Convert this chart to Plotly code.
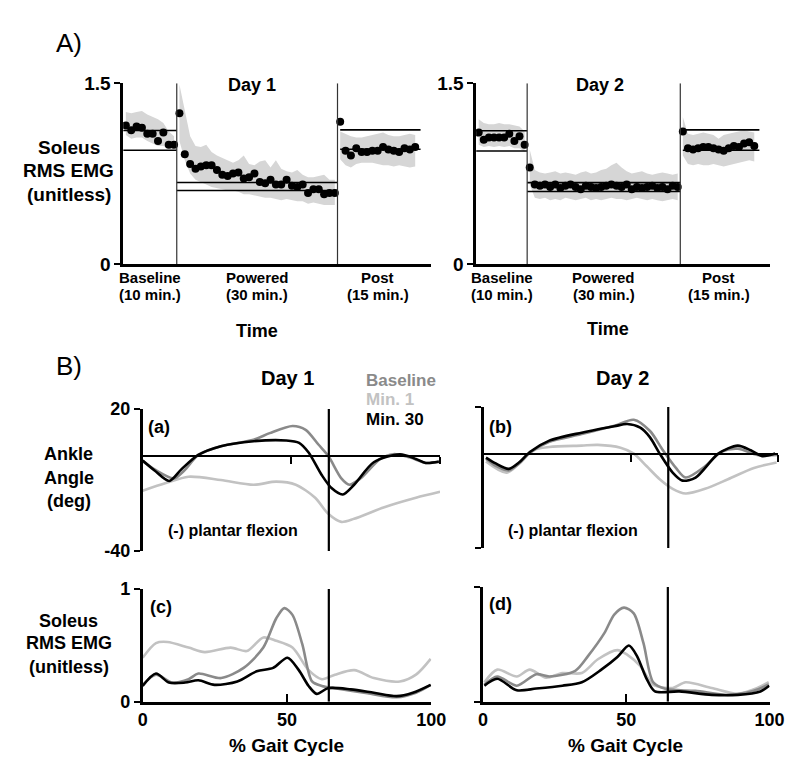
import plotly.graph_objects as go

W, H = 800, 767
FONT = "Liberation Sans, Arial, sans-serif"
NARROW = "Liberation Sans Narrow, Liberation Sans, Arial, sans-serif"

# ---------------- Panel A data (Soleus RMS EMG per minute) ----------------
SEG_NAMES = ["Baseline", "Powered", "Post"]
SEG_DURATIONS = ["(10 min.)", "(30 min.)", "(15 min.)"]
SEG_START = [0, 10, 40]
SEG_LEN = [10, 30, 15]

D1_BASE = [1.15, 1.11, 1.14, 1.13, 1.08, 1.08, 1.02, 1.09, 0.99, 0.99]
D1_BASE_HI = [1.26, 1.25, 1.26, 1.27, 1.24, 1.22, 1.20, 1.17, 1.10, 1.06]
D1_BASE_LO = [1.07, 1.04, 1.05, 1.05, 1.02, 1.00, 0.98, 0.98, 0.96, 0.95]
D1_POW = [1.25, 0.91, 0.83, 0.79, 0.81, 0.82, 0.82, 0.78, 0.74, 0.73,
          0.75, 0.76, 0.71, 0.72, 0.75, 0.68, 0.67, 0.70, 0.66, 0.66,
          0.70, 0.65, 0.64, 0.66, 0.59, 0.62, 0.62, 0.58, 0.59, 0.59]
D1_POW_HI = [1.49, 1.28, 1.06, 0.98, 0.97, 0.99, 0.93, 0.90, 0.88, 0.86,
             0.84, 0.86, 0.90, 0.83, 0.82, 0.85, 0.86, 0.80, 0.86, 0.79,
             0.77, 0.76, 0.78, 0.74, 0.72, 0.72, 0.73, 0.74, 0.70, 0.70]
D1_POW_LO = [1.02, 0.86, 0.75, 0.70, 0.68, 0.66, 0.64, 0.63, 0.62, 0.61,
             0.61, 0.60, 0.58, 0.58, 0.57, 0.56, 0.55, 0.55, 0.54, 0.53,
             0.54, 0.53, 0.52, 0.52, 0.50, 0.51, 0.50, 0.49, 0.49, 0.49]
D1_POST = [1.18, 0.94, 0.90, 0.96, 0.93, 0.93, 0.94, 0.94, 0.97, 0.95, 0.94, 0.93, 0.96, 0.95, 0.97]
D1_POST_HI = [1.10, 1.08, 1.06, 1.05, 1.05, 1.06, 1.07, 1.08, 1.09, 1.07, 1.06, 1.06, 1.07, 1.08, 1.07]
D1_POST_LO = [0.87, 0.82, 0.80, 0.83, 0.84, 0.84, 0.84, 0.83, 0.82, 0.82, 0.81, 0.82, 0.81, 0.80, 0.81]
D1_LEVELS = [[1.107, 0.944], [0.677, 0.610], [1.113, 0.952]]

D2_BASE = [1.09, 1.03, 1.05, 1.05, 1.05, 1.05, 1.08, 1.02, 1.06, 0.99]
D2_BASE_HI = [1.20, 1.17, 1.16, 1.16, 1.17, 1.16, 1.16, 1.15, 1.14, 1.10]
D2_BASE_LO = [0.99, 0.97, 0.98, 0.97, 0.98, 0.97, 0.98, 0.96, 0.96, 0.93]
D2_POW = [0.80, 0.66, 0.65, 0.66, 0.64, 0.66, 0.63, 0.65, 0.66, 0.64,
          0.62, 0.65, 0.64, 0.63, 0.64, 0.65, 0.66, 0.65, 0.64, 0.66,
          0.62, 0.64, 0.63, 0.64, 0.65, 0.63, 0.64, 0.62, 0.65, 0.64]
D2_POW_HI = [0.95, 0.78, 0.76, 0.75, 0.76, 0.77, 0.75, 0.76, 0.75, 0.74,
             0.76, 0.77, 0.75, 0.76, 0.78, 0.79, 0.82, 0.84, 0.80, 0.77,
             0.75, 0.76, 0.77, 0.75, 0.74, 0.75, 0.76, 0.75, 0.74, 0.75]
D2_POW_LO = [0.66, 0.55, 0.54, 0.55, 0.53, 0.54, 0.53, 0.55, 0.54, 0.53,
             0.54, 0.55, 0.53, 0.54, 0.53, 0.54, 0.55, 0.54, 0.54, 0.53,
             0.54, 0.55, 0.54, 0.53, 0.54, 0.53, 0.52, 0.53, 0.54, 0.53]
D2_POST = [1.10, 0.96, 0.95, 0.96, 0.97, 0.97, 0.96, 0.95, 0.94, 0.96, 0.98, 0.97, 1.00, 1.01, 0.98]
D2_POST_HI = [1.22, 1.08, 1.07, 1.08, 1.09, 1.08, 1.07, 1.04, 1.07, 1.08, 1.09, 1.10, 1.11, 1.10, 1.09]
D2_POST_LO = [0.90, 0.83, 0.82, 0.83, 0.82, 0.82, 0.83, 0.82, 0.81, 0.82, 0.83, 0.84, 0.85, 0.86, 0.85]
D2_LEVELS = [[1.105, 0.938], [0.675, 0.602], [1.113, 0.944]]

# ---------------- Panel B data (% gait cycle) ----------------
CONDITIONS = ["Baseline", "Min. 1", "Min. 30"]
TOE_OFF_ANGLE = 62.6
TOE_OFF_EMG = 64.5

# Ankle angle (deg), Day 1
A1_BASE_X = [0, 4, 10.5, 14, 18.7, 26.3, 37.3, 42.7, 50.4, 54.8, 59.1, 62.4, 66.8, 69.5, 73.3, 79.9, 84.3, 89.7, 95.2, 99.6]
A1_BASE_Y = [-2.0, -5.5, -9.3, -6.0, 0.6, 4.3, 7.0, 9.8, 12.8, 11.2, 5.0, 0.2, -9.3, -12.0, -9.3, -1.1, 0.9, -0.4, -2.8, -2.4]
A1_M1_X = [0, 7.8, 15.4, 26.3, 37.3, 44.9, 51.5, 58, 62.4, 66.8, 71.1, 81, 91.9, 100]
A1_M1_Y = [-14.5, -11.3, -8.6, -10.0, -12.0, -10.7, -12.0, -17.5, -24.3, -27.7, -26.4, -21.6, -17.5, -15.0]
A1_M30_X = [0, 4, 8.9, 13, 18.7, 26.3, 37.3, 48.2, 52.6, 55.8, 60.2, 63.5, 67.3, 71.1, 77.7, 86.5, 91.9, 95.2, 99.6]
A1_M30_Y = [-1.8, -6.0, -10.4, -5.5, 0.6, 4.3, 6.4, 6.7, 5.7, 1.6, -7.9, -13.4, -16.1, -12.0, -2.5, 0.9, -1.1, -2.8, -2.2]

# Ankle angle (deg), Day 2
A2_BASE_X = [0.7, 4, 8.4, 12, 15.6, 22.2, 33.2, 44.3, 50.9, 56.4, 60.8, 65.2, 68.5, 75.1, 80.6, 86.2, 92.8, 99.9]
A2_BASE_Y = [-2.0, -5.0, -7.0, -4.0, 0.5, 5.2, 8.5, 12.0, 14.6, 9.8, 1.6, -5.9, -10.0, -5.2, 0.9, 2.3, -0.4, -0.4]
A2_M1_X = [0.7, 7.8, 16.7, 22.2, 33.2, 38.7, 46.4, 50.9, 55.3, 59.7, 64.1, 68.5, 75.1, 82.9, 91.7, 99.4]
A2_M1_Y = [-3.2, -7.9, 1.6, 3.0, 3.6, 3.9, 2.7, 0.2, -5.2, -10.7, -14.8, -16.8, -14.8, -10.7, -5.9, -3.6]
A2_M30_X = [0.7, 4, 8.4, 12, 15.6, 22.2, 33.2, 44.3, 48.7, 53.1, 56.4, 59.7, 64.1, 67.4, 71.9, 79.6, 86.2, 90.6, 94.5, 98.9]
A2_M30_Y = [-1.5, -4.0, -6.3, -3.5, 0.9, 5.7, 9.1, 11.8, 12.8, 11.2, 7.1, 0.2, -7.9, -11.3, -10.0, 0.2, 3.6, 1.6, -0.9, 0.2]

# Soleus RMS EMG, Day 1
E1_BASE_X = [0, 4.6, 10.2, 15.9, 19.3, 27.2, 35.0, 41.8, 46.3, 49.1, 51.9, 55.3, 58.7, 62.1, 66.6, 77.9, 88.0, 94.7, 99.8]
E1_BASE_Y = [0.15, 0.24, 0.17, 0.20, 0.25, 0.21, 0.30, 0.48, 0.74, 0.83, 0.77, 0.51, 0.18, 0.14, 0.12, 0.075, 0.04, 0.08, 0.15]
E1_M1_X = [0, 4.6, 8.6, 15.9, 21.5, 30.5, 36.1, 41.8, 46.3, 51.9, 57.5, 62.1, 66.6, 73.3, 80.1, 89.1, 94.7, 99.8]
E1_M1_Y = [0.39, 0.52, 0.53, 0.48, 0.44, 0.48, 0.45, 0.57, 0.54, 0.48, 0.28, 0.20, 0.24, 0.28, 0.21, 0.18, 0.24, 0.38]
E1_M30_X = [0, 4.6, 9.1, 14.7, 19.3, 24.9, 32.8, 39.5, 45.2, 50.2, 54.1, 57.5, 60.3, 64.2, 72.1, 80.1, 88.0, 93.6, 99.8]
E1_M30_Y = [0.14, 0.25, 0.17, 0.17, 0.19, 0.15, 0.18, 0.27, 0.30, 0.39, 0.28, 0.14, 0.07, 0.12, 0.11, 0.08, 0.05, 0.08, 0.15]

# Soleus RMS EMG, Day 2
E2_BASE_X = [0.5, 5.0, 11.8, 18.6, 23.2, 32.2, 36.7, 42.4, 45.8, 49.2, 52.6, 56.0, 59.4, 63.9, 74.1, 85.5, 94.5, 99.7]
E2_BASE_Y = [0.15, 0.22, 0.14, 0.24, 0.22, 0.27, 0.40, 0.60, 0.76, 0.82, 0.77, 0.51, 0.17, 0.11, 0.095, 0.06, 0.095, 0.15]
E2_M1_X = [0.5, 5.0, 11.8, 16.3, 22.0, 27.7, 34.5, 40.1, 46.9, 50.3, 54.9, 59.4, 66.2, 70.7, 79.8, 88.9, 95.7, 99.7]
E2_M1_Y = [0.17, 0.28, 0.22, 0.28, 0.21, 0.25, 0.25, 0.37, 0.45, 0.41, 0.31, 0.15, 0.12, 0.17, 0.12, 0.07, 0.12, 0.17]
E2_M30_X = [0.5, 5.0, 11.8, 18.6, 27.7, 34.5, 41.3, 46.9, 50.9, 53.7, 57.1, 60.0, 68.5, 79.8, 88.9, 96.8, 99.9]
E2_M30_Y = [0.14, 0.20, 0.10, 0.115, 0.14, 0.17, 0.28, 0.39, 0.49, 0.40, 0.20, 0.09, 0.09, 0.06, 0.06, 0.09, 0.14]

COND_COLORS = {"Baseline": "#8a8a8a", "Min. 1": "#c2c2c2", "Min. 30": "#000000"}
BAND_COLOR = "#d6d6d6"


def px(x):
    return x / W


def py(y):
    return 1 - y / H


fig = go.Figure()

# ---------------- Panel A ----------------
def add_time_panel(xa, ya, segs, levels):
    for k, (vals, hi, lo) in enumerate(segs):
        start = SEG_START[k]
        xs = [start + i + 0.5 for i in range(len(vals))]
        fig.add_trace(go.Scatter(
            x=xs + xs[::-1], y=hi + lo[::-1], fill="toself", fillcolor=BAND_COLOR,
            line=dict(width=0), mode="lines", xaxis=xa, yaxis=ya, hoverinfo="skip",
            showlegend=False))
    for k, lv in enumerate(levels):
        start = SEG_START[k] + (0.5 if k == 2 else 0)
        end = SEG_START[k] + SEG_LEN[k] + (0.5 if k == 2 else 0)
        for v in lv:
            fig.add_trace(go.Scatter(
                x=[start, end], y=[v, v], mode="lines", line=dict(color="black", width=1.6),
                xaxis=xa, yaxis=ya, hoverinfo="skip", showlegend=False))
    for k, (vals, hi, lo) in enumerate(segs):
        start = SEG_START[k]
        xs = [start + i + 0.5 for i in range(len(vals))]
        fig.add_trace(go.Scatter(
            x=xs, y=vals, mode="markers", marker=dict(color="black", size=8),
            xaxis=xa, yaxis=ya, showlegend=False))


add_time_panel("x", "y",
               [(D1_BASE, D1_BASE_HI, D1_BASE_LO), (D1_POW, D1_POW_HI, D1_POW_LO),
                (D1_POST, D1_POST_HI, D1_POST_LO)], D1_LEVELS)
add_time_panel("x2", "y2",
               [(D2_BASE, D2_BASE_HI, D2_BASE_LO), (D2_POW, D2_POW_HI, D2_POW_LO),
                (D2_POST, D2_POST_HI, D2_POST_LO)], D2_LEVELS)

# ---------------- Panel B ----------------
def add_curves(xa, ya, curves):
    for name, xs, ys in curves:
        fig.add_trace(go.Scatter(
            x=xs, y=ys, mode="lines", name=name,
            line=dict(color=COND_COLORS[name], width=2.6, shape="spline", smoothing=0.8),
            xaxis=xa, yaxis=ya, showlegend=False))


add_curves("x3", "y3", [("Min. 1", A1_M1_X, A1_M1_Y), ("Baseline", A1_BASE_X, A1_BASE_Y),
                        ("Min. 30", A1_M30_X, A1_M30_Y)])
add_curves("x4", "y4", [("Min. 1", A2_M1_X, A2_M1_Y), ("Baseline", A2_BASE_X, A2_BASE_Y),
                        ("Min. 30", A2_M30_X, A2_M30_Y)])
add_curves("x5", "y5", [("Min. 1", E1_M1_X, E1_M1_Y), ("Baseline", E1_BASE_X, E1_BASE_Y),
                        ("Min. 30", E1_M30_X, E1_M30_Y)])
add_curves("x6", "y6", [("Min. 1", E2_M1_X, E2_M1_Y), ("Baseline", E2_BASE_X, E2_BASE_Y),
                        ("Min. 30", E2_M30_X, E2_M30_Y)])

# ---------------- Axes ----------------
TICK_MID = [SEG_START[k] + SEG_LEN[k] / 2 for k in range(3)]
base_ax = dict(showgrid=False, zeroline=False, showline=True, linecolor="black",
               linewidth=2.5, tickcolor="black", tickwidth=2.2, fixedrange=True)


def tf(size, family=FONT):
    return dict(family=family, size=size, color="black", weight="bold")


ANG_RANGE = [-40, 20]
EMG_RANGE = [0, 1]
A_RANGE = [0, 1.5]
T_RANGE = [0, 57.5]

ya_dom = [py(253), py(67)]
y3_dom = [py(548), py(402)]
y4_dom = [py(545), py(400)]


def zero_pos(dom, rng):
    return dom[0] + (0 - rng[0]) / (rng[1] - rng[0]) * (dom[1] - dom[0])


layout_axes = dict(
    xaxis=dict(base_ax, domain=[px(113), px(429)], range=T_RANGE, anchor="y", ticks="",
               showticklabels=False),
    yaxis=dict(base_ax, domain=ya_dom, range=A_RANGE, anchor="x", ticks="outside", ticklen=6,
               tickvals=[0, 1.5], ticktext=["0", "1.5"], tickfont=tf(19)),
    xaxis2=dict(base_ax, domain=[px(475), px(776)], range=T_RANGE, anchor="y2", ticks="",
                showticklabels=False),
    yaxis2=dict(base_ax, domain=ya_dom, range=A_RANGE, anchor="x2", ticks="outside", ticklen=6,
                tickvals=[0, 1.5], ticktext=["0", "1.5"], tickfont=tf(19)),
    xaxis3=dict(base_ax, domain=[px(133), px(438)], range=[0, 100], anchor="free",
                position=zero_pos(y3_dom, ANG_RANGE), linewidth=2.2, ticks="outside", ticklen=7,
                tickvals=[50, 100], showticklabels=False),
    yaxis3=dict(base_ax, domain=y3_dom, range=ANG_RANGE, anchor="x3", ticks="outside", ticklen=6,
                tickvals=[-40, 20], ticktext=["-40", "20"], tickfont=tf(18)),
    xaxis4=dict(base_ax, domain=[px(483), px(785)], range=[0, 100], anchor="free",
                position=zero_pos(y4_dom, ANG_RANGE), linewidth=2.2, ticks="outside", ticklen=7,
                tickvals=[50, 100], showticklabels=False),
    yaxis4=dict(base_ax, domain=y4_dom, range=ANG_RANGE, anchor="x4", ticks="outside", ticklen=6,
                tickvals=[-40, 20], showticklabels=False),
    xaxis5=dict(base_ax, domain=[px(133), px(429)], range=[0, 100], anchor="y5", ticks="inside",
                ticklen=8, tickvals=[0, 50, 100], ticktext=["0", "50", "100"], tickfont=tf(18)),
    yaxis5=dict(base_ax, domain=[py(703), py(587)], range=EMG_RANGE, anchor="x5", ticks="outside",
                ticklen=6, tickvals=[0, 1], ticktext=["0", "1"], tickfont=tf(18)),
    xaxis6=dict(base_ax, domain=[px(482), px(776)], range=[0, 100], anchor="y6", ticks="inside",
                ticklen=8, tickvals=[0, 50, 100], ticktext=["0", "50", "100"], tickfont=tf(18)),
    yaxis6=dict(base_ax, domain=[py(703), py(585)], range=EMG_RANGE, anchor="x6", ticks="outside",
                ticklen=6, tickvals=[0, 1], showticklabels=False),
)

# ---------------- Shapes ----------------
shapes = []
for xa, ya in [("x", "y"), ("x2", "y2")]:
    for s in SEG_START[1:]:
        shapes.append(dict(type="line", xref=xa, yref=ya, x0=s, x1=s, y0=A_RANGE[0], y1=A_RANGE[1],
                           line=dict(color="#333333", width=1.2)))
for xa, ya in [("x3", "y3"), ("x4", "y4")]:
    shapes.append(dict(type="line", xref=xa, yref=ya, x0=TOE_OFF_ANGLE, x1=TOE_OFF_ANGLE,
                       y0=ANG_RANGE[0], y1=ANG_RANGE[1], line=dict(color="black", width=2.2)))
for xa, ya in [("x5", "y5"), ("x6", "y6")]:
    shapes.append(dict(type="line", xref=xa, yref=ya, x0=TOE_OFF_EMG, x1=TOE_OFF_EMG,
                       y0=EMG_RANGE[0], y1=1.03, line=dict(color="black", width=2.2)))

# ---------------- Annotations ----------------
ann = []


def text(t, x, y, size, bold=True, color="black", xanchor="center", family=FONT, xref="paper"):
    ann.append(dict(text=t, x=px(x) if xref == "paper" else x, y=py(y), xref=xref, yref="paper",
                    showarrow=False, xanchor=xanchor, yanchor="middle",
                    font=dict(family=family, size=size, color=color,
                              weight="bold" if bold else "normal")))


text("A)", 57, 26, 26, bold=False)
text("B)", 57, 358, 26, bold=False)
for t, y in zip(["Soleus", "RMS EMG", "(unitless)"], [133, 157, 181]):
    text(t, 57, y, 19)
text("Day 1", 245, 69, 18)
text("Day 2", 602, 69, 18)
# segment category labels under the time axes
for xa in ["x", "x2"]:
    for k in range(3):
        text(SEG_NAMES[k], TICK_MID[k], 267, 15, family=NARROW, xref=xa)
        text(SEG_DURATIONS[k], TICK_MID[k], 284, 15, family=NARROW, xref=xa)
text("Time", 250, 322, 18)
text("Time", 610, 320, 18)

for t, y in zip(["Ankle", "Angle", "(deg)"], [448, 473, 497]):
    text(t, 57, y, 18)
for t, y in zip(["Soleus", "RMS EMG", "(unitless)"], [620, 643, 667]):
    text(t, 57, y, 18)
text("Day 1", 282, 370, 20)
text("Day 2", 625, 370, 20)
for name, y in zip(CONDITIONS, [373, 392, 413]):
    text(name, 360, y, 17, color=COND_COLORS[name], xanchor="left")
text("(a)", 150, 421, 18)
text("(b)", 500, 421, 18)
text("(c)", 152, 606, 18)
text("(d)", 500, 603, 18)
text("(-) plantar flexion", 226, 527, 16)
text("(-) plantar flexion", 574, 527, 16)
text("% Gait Cycle", 280, 748, 19)
text("% Gait Cycle", 628, 748, 19)

fig.update_layout(
    width=W, height=H, margin=dict(l=0, r=0, t=0, b=0),
    paper_bgcolor="white", plot_bgcolor="white",
    font=dict(family=FONT, color="black"),
    showlegend=False, shapes=shapes, annotations=ann,
    **layout_axes,
)

fig.write_html("out.html")
